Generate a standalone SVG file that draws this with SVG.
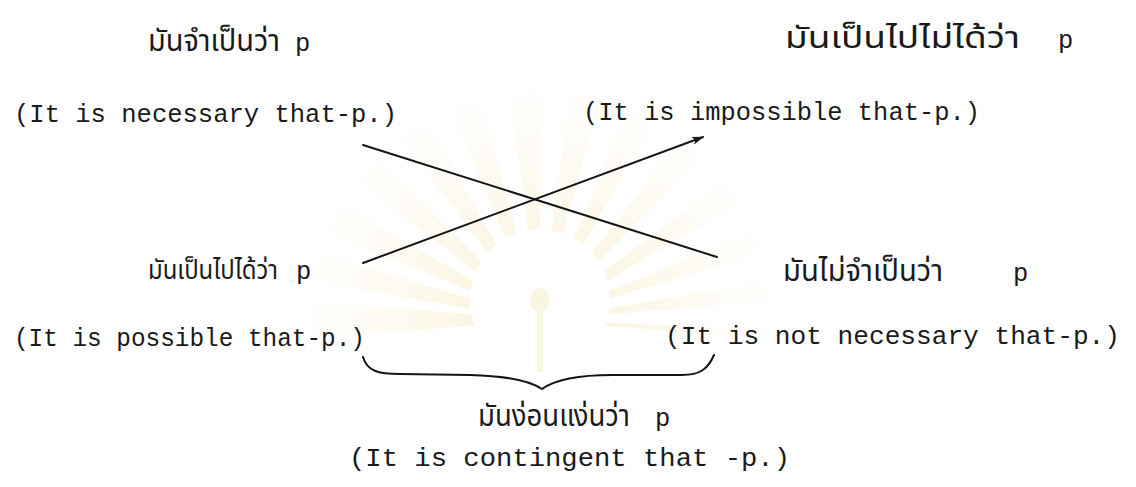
<svg xmlns="http://www.w3.org/2000/svg" width="1136" height="487" viewBox="0 0 1136 487">
<style>
.th{font-family:"Noto Sans Thai","Noto Serif Thai","Loma","Garuda","Norasi","Noto Sans",sans-serif;font-size:31px;fill:#1a1a1a}
.en{font-family:"Liberation Mono","Courier New",monospace;font-size:25.5px;fill:#1a1a1a}
.ln{stroke:#151515;stroke-width:2;fill:none;stroke-linecap:round}
.ray{fill:#f6e9bd}
</style>
<defs>
<marker id="ah" viewBox="0 0 12 8" refX="11" refY="4" markerWidth="12" markerHeight="8" markerUnits="userSpaceOnUse" orient="auto">
<path d="M0,0 L12,4 L0,8 L3,4 Z" fill="#151515"/>
</marker>
<radialGradient id="fade" cx="540" cy="320" r="240" gradientUnits="userSpaceOnUse">
<stop offset="0.25" stop-color="#fff" stop-opacity="1"/>
<stop offset="1" stop-color="#fff" stop-opacity="0"/>
</radialGradient>
<mask id="wm"><rect x="0" y="0" width="1136" height="487" fill="url(#fade)"/></mask>
</defs>
<rect width="1136" height="487" fill="#ffffff"/>
<g id="watermark" mask="url(#wm)" opacity="0.45">
<g class="ray">
<path d="M540,320 L300,300 L300,330 Z"/>
<path d="M540,320 L310,250 L302,280 Z"/>
<path d="M540,320 L335,200 L318,228 Z"/>
<path d="M540,320 L375,155 L352,178 Z"/>
<path d="M540,320 L425,120 L398,137 Z"/>
<path d="M540,320 L480,98 L450,106 Z"/>
<path d="M540,320 L540,90 L510,92 Z"/>
<path d="M540,320 L600,98 L570,92 Z"/>
<path d="M540,320 L655,120 L630,106 Z"/>
<path d="M540,320 L705,155 L682,137 Z"/>
<path d="M540,320 L745,200 L728,178 Z"/>
<path d="M540,320 L770,250 L762,228 Z"/>
<path d="M540,320 L780,300 L778,280 Z"/>
<path d="M540,320 L780,340 L780,330 Z"/>
<path d="M540,320 L300,340 L300,330 Z"/>
</g>
<circle cx="540" cy="300" r="70" fill="#ffffff"/>
<ellipse cx="540" cy="300" rx="10" ry="12" fill="#f6e9bd"/>
<rect x="537" y="312" width="6" height="60" fill="#f6e9bd"/>
</g>
<g id="connectors">
<path id="c-necessary-notnecessary" class="ln" d="M363,145 L717,257"/>
<path id="c-possible-impossible" class="ln" d="M363,263 L703,137" marker-end="url(#ah)"/>
<path id="brace" class="ln" d="M363,357 C367,371 378,374 400,374 L470,375 C508,376 530,381 542,389 C556,379 578,375 612,375 L682,375 C700,375 708,369 714,355"/>
</g>
<g id="n-necessary">
<text class="th" x="148" y="51" textLength="132" lengthAdjust="spacingAndGlyphs">มันจำเป็นว่า</text>
<text class="en" x="295" y="51">p</text>
<text class="en" x="14" y="122" textLength="383" lengthAdjust="spacingAndGlyphs">(It is necessary that-p.)</text>
</g>
<g id="n-impossible">
<text class="th" x="785" y="48" textLength="235" lengthAdjust="spacingAndGlyphs">มันเป็นไปไม่ได้ว่า</text>
<text class="en" x="1058" y="48">p</text>
<text class="en" x="583" y="120" textLength="397" lengthAdjust="spacingAndGlyphs">(It is impossible that-p.)</text>
</g>
<g id="n-possible">
<text class="th" x="148" y="279" style="font-size:27px" textLength="130" lengthAdjust="spacingAndGlyphs">มันเป็นไปได้ว่า</text>
<text class="en" x="296" y="279">p</text>
<text class="en" x="14" y="346" textLength="351" lengthAdjust="spacingAndGlyphs">(It is possible that-p.)</text>
</g>
<g id="n-notnecessary">
<text class="th" x="783" y="281" textLength="160" lengthAdjust="spacingAndGlyphs">มันไม่จำเป็นว่า</text>
<text class="en" x="1013" y="281">p</text>
<text class="en" x="665" y="344" textLength="455" lengthAdjust="spacingAndGlyphs">(It is not necessary that-p.)</text>
</g>
<g id="n-contingent">
<text class="th" x="478" y="426" textLength="152" lengthAdjust="spacingAndGlyphs">มันง่อนแง่นว่า</text>
<text class="en" x="655" y="426">p</text>
<text class="en" x="349" y="466" textLength="441" lengthAdjust="spacingAndGlyphs">(It is contingent that -p.)</text>
</g>
</svg>
